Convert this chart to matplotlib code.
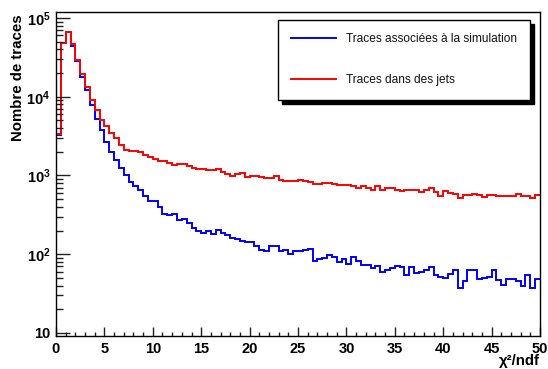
import numpy as np
import matplotlib
matplotlib.use("Agg")
import matplotlib.pyplot as plt
from matplotlib.ticker import FixedLocator, LogLocator, NullFormatter

plt.rcParams['font.family'] = ['Liberation Sans', 'DejaVu Sans']
plt.rcParams['mathtext.fontset'] = 'custom'
plt.rcParams['mathtext.rm'] = 'Liberation Sans:bold'
plt.rcParams['mathtext.bf'] = 'Liberation Sans:bold'

# chi2/ndf histograms, 100 bins of 0.5 between 0 and 50
bin_edges = np.linspace(0, 50, 101)

traces_simulation = [
    3300, 48000, 66000, 44000, 28000, 17800, 12000, 7800, 5250, 3730,
    2650, 1980, 1550, 1250, 1000, 820, 745, 645, 555, 480,
    470, 400, 326, 311, 326, 274, 278, 248, 218, 198,
    187, 200, 182, 204, 187, 178, 161, 154, 146, 145,
    141, 129, 112, 110, 128, 129, 110, 114, 102, 110,
    110, 112, 117, 83, 86, 90, 99, 93, 79, 87,
    76, 92, 82, 72, 74, 66, 71, 59, 63, 67,
    70, 68, 55, 68, 57, 59, 63, 68, 54, 52,
    50, 56, 63, 37, 46, 63, 63, 49, 50, 51,
    63, 47, 41, 49, 49, 46, 39, 54, 37, 49,
]

traces_jets = [
    3400, 48500, 66000, 47000, 29500, 19500, 13400, 9200, 6700, 5100,
    4200, 3460, 2980, 2460, 2120, 2030, 2020, 1980, 1795, 1730,
    1629, 1521, 1521, 1435, 1366, 1407, 1380, 1301, 1227, 1203,
    1203, 1180, 1180, 1203, 1113, 1050, 971, 1050, 1070, 952,
    971, 971, 950, 930, 934, 971, 881, 847, 839, 839,
    864, 839, 823, 784, 784, 799, 799, 784, 746, 761,
    761, 725, 697, 740, 684, 658, 725, 645, 697, 690,
    658, 632, 658, 645, 645, 614, 658, 697, 614, 546,
    632, 602, 585, 520, 573, 557, 585, 573, 530, 557,
    568, 551, 546, 546, 546, 585, 546, 551, 520, 568,
]

label_simulation = "Traces associées à la simulation"
label_jets = "Traces dans des jets"

x_ticks = list(range(0, 51, 5))
y_ticks = [10, 100, 1000, 10000, 100000]
y_tick_labels = ["10", r"$\mathbf{10^{2}}$", r"$\mathbf{10^{3}}$",
                 r"$\mathbf{10^{4}}$", r"$\mathbf{10^{5}}$"]

fig = plt.figure(figsize=(5.48, 3.69), dpi=100)
ax = fig.add_axes([56 / 548, 33 / 369, 484 / 548, 324 / 369])

ax.stairs(traces_simulation, bin_edges, color='#0000ff', lw=1.4,
          baseline=None, label=label_simulation)
ax.stairs(traces_jets, bin_edges, color='#ff0000', lw=1.4,
          baseline=None, label=label_jets)

ax.set_yscale('log')
ax.set_xlim(0, 50)
ax.set_ylim(9.16, 1.19e5)

ax.xaxis.set_major_locator(FixedLocator(x_ticks))
ax.xaxis.set_minor_locator(FixedLocator(np.arange(0, 51, 1)))
ax.set_xticklabels([str(t) for t in x_ticks])
ax.yaxis.set_major_locator(FixedLocator(y_ticks))
ax.yaxis.set_minor_locator(LogLocator(base=10, subs=np.arange(2, 10)))
ax.yaxis.set_minor_formatter(NullFormatter())
ax.set_yticklabels(y_tick_labels)

ax.tick_params(axis='both', which='both', direction='in', color='#222222',
               top=False, right=False, labelsize=10.5)
ax.tick_params(axis='y', which='major', length=10, width=1, pad=4)
ax.tick_params(axis='y', which='minor', length=5, width=1)
ax.tick_params(axis='x', which='major', length=6.5, width=1, pad=4)
ax.tick_params(axis='x', which='minor', length=3.2, width=1)
for lab in ax.get_xticklabels() + ax.get_yticklabels():
    lab.set_fontweight('bold')
for sp in ax.spines.values():
    sp.set_linewidth(1)
    sp.set_color('black')

fig.text(18 / 548, 1 - 78 / 369, "Nombre de traces", rotation=90,
         ha='center', va='center', fontsize=10.8, fontweight='bold')
fig.text(540 / 548, 1 - 361 / 369, "χ²/ndf", ha='right', va='center',
         fontsize=10.8, fontweight='bold')

leg = ax.legend(loc='upper right', bbox_to_anchor=(530 / 548, 1 - 20 / 369),
                bbox_transform=fig.transFigure, fontsize=8.6, frameon=True,
                fancybox=False, framealpha=1, edgecolor='black',
                borderpad=1.1, labelspacing=2.45, handlelength=3.8,
                handletextpad=0.8, borderaxespad=0,
                shadow={'ox': 3, 'oy': -3, 'color': 'black', 'alpha': 1})
leg.get_frame().set_linewidth(1)
for t in leg.get_texts():
    t.set_color('#111111')
for h in leg.get_lines():
    h.set_linewidth(1.4)

fig.savefig("out.png", dpi=100)
